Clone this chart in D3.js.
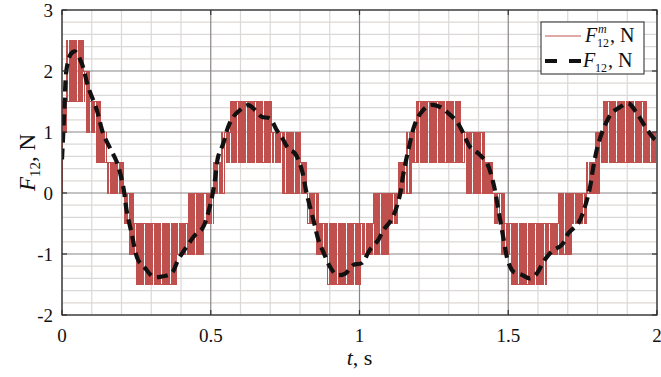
<!DOCTYPE html>
<html>
<head>
<meta charset="utf-8">
<script src="https://cdn.jsdelivr.net/npm/d3@7"></script>
<style>
  body { margin: 0; background: #fff; }
</style>
</head>
<body>
<script>
// measured force F12 (red): bands where the quantised signal dithers between two levels
// [t start, t end, low level, high level]
const measuredBands = [
  [0.000, 0.016, 1, 1.5], [0.016, 0.072, 1.5, 2.5], [0.072, 0.077, 1.5, 2],
  [0.077, 0.094, 1, 2], [0.094, 0.111, 1, 1.5], [0.111, 0.133, 0.5, 1.5],
  [0.133, 0.150, 0.5, 1], [0.150, 0.206, 0, 0.5], [0.206, 0.223, -0.5, 0],
  [0.223, 0.245, -1, 0], [0.245, 0.386, -1.5, -0.5], [0.386, 0.424, -1, -0.5],
  [0.424, 0.481, -1, 0], [0.481, 0.509, -0.5, 0], [0.509, 0.537, 0, 0.5],
  [0.537, 0.548, 0, 1], [0.548, 0.565, 0.5, 1], [0.565, 0.705, 0.5, 1.5],
  [0.705, 0.738, 0.5, 1], [0.738, 0.800, 0, 1], [0.800, 0.823, 0, 0.5],
  [0.823, 0.850, -0.5, 0], [0.850, 0.862, -1, 0], [0.862, 0.890, -1, -0.5],
  [0.890, 1.007, -1.5, -0.5], [1.007, 1.046, -1, -0.5], [1.046, 1.097, -1, 0],
  [1.097, 1.130, -0.5, 0], [1.130, 1.159, 0, 0.5], [1.159, 1.175, 0, 1],
  [1.175, 1.192, 0.5, 1], [1.192, 1.344, 0.5, 1.5], [1.344, 1.355, 0.5, 1],
  [1.355, 1.422, 0, 1], [1.422, 1.450, 0, 0.5], [1.450, 1.472, -0.5, 0],
  [1.472, 1.489, -1, 0], [1.489, 1.506, -1, -0.5], [1.506, 1.629, -1.5, -0.5],
  [1.629, 1.668, -1, -0.5], [1.668, 1.713, -1, 0], [1.713, 1.764, -0.5, 0],
  [1.764, 1.792, 0, 0.5], [1.792, 1.808, 0, 1], [1.808, 1.820, 0.5, 1],
  [1.820, 1.965, 0.5, 1.5], [1.965, 1.997, 0.5, 1], [1.997, 2.000, 0, 1]
];

// reference force F12 (black dashed)
const refT = [0, 0.008, 0.016, 0.03, 0.044, 0.066, 0.088, 0.117, 0.138, 0.161, 0.184, 0.206,
  0.217, 0.234, 0.256, 0.279, 0.306, 0.335, 0.369, 0.39, 0.419, 0.447, 0.472, 0.497, 0.514,
  0.525, 0.542, 0.559, 0.576, 0.598, 0.626, 0.649, 0.671, 0.699, 0.722, 0.738, 0.761, 0.783,
  0.806, 0.822, 0.845, 0.862, 0.878, 0.901, 0.923, 0.952, 0.979, 1.007, 1.035, 1.063, 1.08,
  1.103, 1.119, 1.136, 1.147, 1.164, 1.187, 1.209, 1.237, 1.271, 1.298, 1.327, 1.349, 1.371,
  1.399, 1.428, 1.45, 1.467, 1.483, 1.5, 1.517, 1.545, 1.573, 1.596, 1.618, 1.646, 1.68,
  1.702, 1.735, 1.758, 1.775, 1.786, 1.803, 1.825, 1.848, 1.876, 1.904, 1.932, 1.96, 1.988, 2.0];
const refF = [0.55, 1.35, 2.05, 2.28, 2.32, 2.13, 1.74, 1.36, 0.98, 0.74, 0.51, 0.10,
  -0.28, -0.66, -1.10, -1.23, -1.37, -1.37, -1.31, -1.10, -0.88, -0.69, -0.58, -0.22, 0.21,
  0.60, 0.81, 1.09, 1.25, 1.36, 1.44, 1.36, 1.25, 1.22, 1.03, 0.92, 0.73, 0.65,
  0.38, 0.0, -0.44, -0.77, -0.96, -1.21, -1.34, -1.32, -1.18, -1.15, -0.93, -0.77, -0.61,
  -0.47, -0.31, -0.03, 0.30, 0.70, 1.14, 1.33, 1.44, 1.41, 1.31, 1.17, 0.98, 0.76,
  0.65, 0.49, 0.16, -0.28, -0.72, -1.13, -1.29, -1.34, -1.40, -1.32, -1.13, -0.96, -0.85,
  -0.66, -0.50, -0.22, 0.10, 0.43, 0.81, 1.11, 1.31, 1.41, 1.47, 1.31, 1.09, 0.90, 0.85];

const xTicks = [0, 0.5, 1, 1.5, 2];
const yTicks = [-2, -1, 0, 1, 2, 3];
const xTickLabels = ['0', '0.5', '1', '1.5', '2'];
const yTickLabels = ['-2', '-1', '0', '1', '2', '3'];

const width = 661, height = 377;
const margin = { left: 62, right: 4, top: 10, bottom: 62 };
const serif = "'Liberation Serif', 'Times New Roman', Times, 'DejaVu Serif', serif";

const svg = d3.select('body').append('svg')
  .attr('width', width).attr('height', height)
  .style('font-family', serif);

const x = d3.scaleLinear().domain([0, 2]).range([margin.left, width - margin.right]);
const y = d3.scaleLinear().domain([-2, 3]).range([height - margin.bottom, margin.top]);

svg.append('defs').append('clipPath').attr('id', 'plot')
  .append('rect')
  .attr('x', x(0)).attr('y', y(3))
  .attr('width', x(2) - x(0)).attr('height', y(-2) - y(3));

// grid
const minorX = d3.range(0, 2.0001, 0.1).filter(v => Math.abs(v * 2 - Math.round(v * 2)) > 1e-6);
const minorY = d3.range(-2, 3.0001, 0.2).filter(v => Math.abs(v - Math.round(v)) > 1e-6);
const grid = svg.append('g');
grid.selectAll('.mx').data(minorX).join('line')
  .attr('x1', d => x(d)).attr('x2', d => x(d))
  .attr('y1', y(-2)).attr('y2', y(3))
  .attr('stroke', '#dcd8d6').attr('stroke-width', 1.2);
grid.selectAll('.my').data(minorY).join('line')
  .attr('y1', d => y(d)).attr('y2', d => y(d))
  .attr('x1', x(0)).attr('x2', x(2))
  .attr('stroke', '#dcd8d6').attr('stroke-width', 1.2);
grid.selectAll('.Mx').data(xTicks).join('line')
  .attr('x1', d => x(d)).attr('x2', d => x(d))
  .attr('y1', y(-2)).attr('y2', y(3))
  .attr('stroke', '#8a8685').attr('stroke-width', 1.2);
grid.selectAll('.My').data(yTicks).join('line')
  .attr('y1', d => y(d)).attr('y2', d => y(d))
  .attr('x1', x(0)).attr('x2', x(2))
  .attr('stroke', '#8a8685').attr('stroke-width', 1.2);

// measured signal: toggle between the band levels every sample
const dt = 0.0038;
const measured = [];
measuredBands.forEach(([t0, t1, lo, hi]) => {
  let k = 0;
  for (let t = t0; t < t1 - 1e-9; t += dt, k++) {
    measured.push([t, k % 2 === 0 ? hi : lo]);
  }
});
measured.unshift([0, 0]);
measured.push([2, 1]);

const plot = svg.append('g').attr('clip-path', 'url(#plot)');
plot.append('path')
  .datum(measured)
  .attr('fill', 'none')
  .attr('stroke', '#c0504d')
  .attr('stroke-width', 1)
  .attr('shape-rendering', 'crispEdges')
  .attr('d', d3.line().x(d => x(d[0])).y(d => y(d[1])).curve(d3.curveStepAfter));

const refData = refT.map((t, i) => [t, refF[i]]);
plot.append('path')
  .datum(refData)
  .attr('fill', 'none')
  .attr('stroke', '#111')
  .attr('stroke-width', 4.2)
  .attr('stroke-dasharray', '11,6')
  .attr('d', d3.line().x(d => x(d[0])).y(d => y(d[1])).curve(d3.curveCatmullRom));

// frame
svg.append('rect')
  .attr('x', x(0)).attr('y', y(3))
  .attr('width', x(2) - x(0)).attr('height', y(-2) - y(3))
  .attr('fill', 'none').attr('stroke', '#333').attr('stroke-width', 1.2);

// inward ticks on all four sides
const tk = svg.append('g').attr('stroke', '#333').attr('stroke-width', 1.2);
xTicks.forEach(d => {
  tk.append('line').attr('x1', x(d)).attr('x2', x(d)).attr('y1', y(-2)).attr('y2', y(-2) - 5);
  tk.append('line').attr('x1', x(d)).attr('x2', x(d)).attr('y1', y(3)).attr('y2', y(3) + 5);
});
yTicks.forEach(d => {
  tk.append('line').attr('y1', y(d)).attr('y2', y(d)).attr('x1', x(0)).attr('x2', x(0) + 5);
  tk.append('line').attr('y1', y(d)).attr('y2', y(d)).attr('x1', x(2)).attr('x2', x(2) - 5);
});

// tick labels
svg.selectAll('.xl').data(xTicks).join('text')
  .attr('x', d => x(d)).attr('y', y(-2) + 27)
  .attr('text-anchor', 'middle').attr('font-size', 19).attr('fill', '#111')
  .text((d, i) => xTickLabels[i]);
svg.selectAll('.yl').data(yTicks).join('text')
  .attr('x', x(0) - 9).attr('y', d => y(d) + 6.5)
  .attr('text-anchor', 'end').attr('font-size', 19).attr('fill', '#111')
  .text((d, i) => yTickLabels[i]);

// axis titles
const xt = svg.append('text')
  .attr('x', (x(0) + x(2)) / 2).attr('y', 365)
  .attr('text-anchor', 'middle').attr('font-size', 22).attr('fill', '#111');
xt.append('tspan').attr('font-style', 'italic').text('t');
xt.append('tspan').text(', s');

const yt = svg.append('text')
  .attr('transform', `translate(35,${(y(3) + y(-2)) / 2}) rotate(-90)`)
  .attr('text-anchor', 'middle').attr('font-size', 23).attr('fill', '#111');
yt.append('tspan').attr('font-style', 'italic').text('F');
yt.append('tspan').attr('font-size', 15).attr('dy', 5).text('12');
yt.append('tspan').attr('dy', -5).text(', N');

// legend
const lg = svg.append('g');
lg.append('rect')
  .attr('x', 541).attr('y', 22).attr('width', 103).attr('height', 52)
  .attr('fill', '#fff').attr('stroke', '#222').attr('stroke-width', 1);
lg.append('line')
  .attr('x1', 545).attr('x2', 581).attr('y1', 36).attr('y2', 36)
  .attr('stroke', '#c0504d').attr('stroke-width', 1);
lg.append('line')
  .attr('x1', 545).attr('x2', 581).attr('y1', 61).attr('y2', 61)
  .attr('stroke', '#111').attr('stroke-width', 4.2).attr('stroke-dasharray', '12,12');

lg.append('text').attr('x', 585).attr('y', 42).attr('font-size', 20).attr('fill', '#111')
  .attr('font-style', 'italic').text('F');
lg.append('text').attr('x', 597).attr('y', 47).attr('font-size', 12).attr('fill', '#111').text('12');
lg.append('text').attr('x', 598).attr('y', 33).attr('font-size', 12).attr('fill', '#111')
  .attr('font-style', 'italic').text('m');
lg.append('text').attr('x', 610).attr('y', 42).attr('font-size', 20).attr('fill', '#111').text(', N');

lg.append('text').attr('x', 583).attr('y', 67).attr('font-size', 20).attr('fill', '#111')
  .attr('font-style', 'italic').text('F');
lg.append('text').attr('x', 595).attr('y', 72).attr('font-size', 12).attr('fill', '#111').text('12');
lg.append('text').attr('x', 608).attr('y', 67).attr('font-size', 20).attr('fill', '#111').text(', N');
</script>
</body>
</html>
